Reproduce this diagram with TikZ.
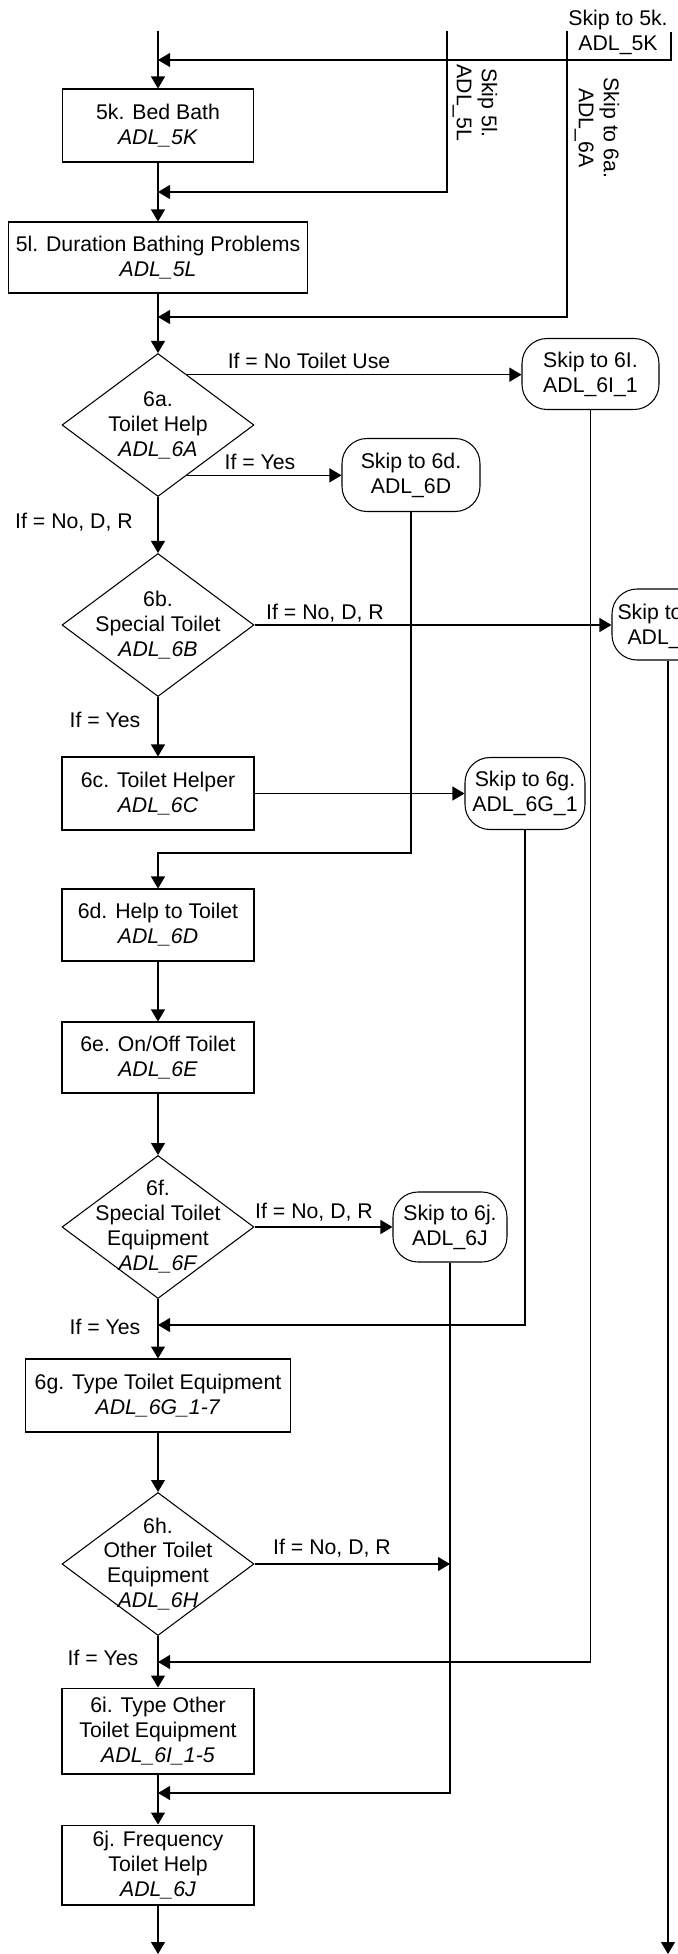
\documentclass[tikz,border=0pt]{standalone}
\usepackage{fontspec}
\setmainfont{Liberation Sans}
\usetikzlibrary{shapes.geometric,arrows.meta}
\newcommand{\chartfont}{\fontsize{12.1}{14.2}\selectfont}
\tikzstyle{question}=[
        draw,
        rectangle,
        align=center,
        inner sep=2pt
]
\tikzstyle{decision}=[
        draw,
        diamond,
        minimum width=3.84cm,
        minimum height=2.86cm,
        inner sep=0pt
]
\tikzstyle{skipto}=[
        draw,
        rectangle,
        rounded corners=0.5cm,
        align=center,
        inner sep=1pt
]
\tikzstyle{lbl}=[
        inner sep=0pt,
        text height=0.72em,
        text depth=0pt
]
\tikzstyle{flow}=[
        -{Triangle[length=0.24cm,width=0.28cm]}
]

\begin{document}
\begin{tikzpicture}[x=0.02cm, y=-0.02cm, line width=0.6pt, every node/.style={font=\chartfont}]
                        \useasboundingbox (0,0) rectangle (678,1954);
                        \clip (0,0) rectangle (678,1954);

                        \coordinate (top5k) at (158,31);
                        \coordinate (top5l) at (447,31);
                        \coordinate (top6a) at (567,31);
                        \coordinate (top5kr) at (671,32);
                        \coordinate (j5k) at (158,60);
                        \coordinate (j5l) at (158,192);
                        \coordinate (j6a) at (158,317);
                        \coordinate (j6d) at (158,853);
                        \coordinate (j6g) at (158,1325);
                        \coordinate (j6i) at (158,1662);
                        \coordinate (j6j) at (158,1793);
                        \coordinate (endL) at (158,1954);
                        \coordinate (endR) at (669,1954);

                        \node (l5k) at (618,32.5) [align=center] {Skip to 5k.\\ADL\_5K};
                        \node (l5l) at (475,103) [rotate=-90, align=center] {Skip 5l.\\ADL\_5L};
                        \node (l6a) at (597,128) [rotate=-90, align=center] {Skip to 6a.\\ADL\_6A};

                        \node[question, minimum width=3.82cm, minimum height=1.46cm] (b5k) at (158,125.5) {5k. Bed Bath\\\textit{ADL\_5K}};
                        \node[question, minimum width=5.98cm, minimum height=1.42cm] (b5l) at (158,257.5) {5l. Duration Bathing Problems\\\textit{ADL\_5L}};

                        \node[decision, label={[align=center]center:6a.\\Toilet Help\\\textit{ADL\_6A}}] (q6a) at (158,425) {};
                        \node[skipto, minimum width=2.74cm, minimum height=1.42cm] (skip6l) at (590.5,374) {Skip to 6I.\\ADL\_6I\_1};
                        \node[skipto, minimum width=2.76cm, minimum height=1.46cm] (skip6d) at (411,475) {Skip to 6d.\\ADL\_6D};

                        \node[decision, label={[align=center]center:6b.\\Special Toilet\\\textit{ADL\_6B}}] (q6b) at (158,625) {};
                        \node[skipto, minimum width=2.24cm, minimum height=1.42cm] (skipR) at (668,624.5) {};
                        \node[lbl, anchor=west] (tR1) at (617,613) {Skip to};
                        \node[lbl, anchor=west] (tR2) at (627,638) {ADL\_};

                        \node[question, minimum width=3.84cm, minimum height=1.46cm] (b6c) at (158,793.5) {6c. Toilet Helper\\\textit{ADL\_6C}};
                        \node[skipto, minimum width=2.4cm, minimum height=1.44cm] (skip6g) at (525,793.5) {Skip to 6g.\\ADL\_6G\_1};

                        \node[question, minimum width=3.84cm, minimum height=1.44cm] (b6d) at (158,925) {6d. Help to Toilet\\\textit{ADL\_6D}};
                        \node[question, minimum width=3.84cm, minimum height=1.42cm] (b6e) at (158,1057.5) {6e. On/Off Toilet\\\textit{ADL\_6E}};

                        \node[decision, label={[align=center]center:6f.\\Special Toilet\\Equipment\\\textit{ADL\_6F}}] (q6f) at (158,1227) {};
                        \node[skipto, minimum width=2.28cm, minimum height=1.4cm] (skip6j) at (450,1227) {Skip to 6j.\\ADL\_6J};

                        \node[question, minimum width=5.3cm, minimum height=1.46cm] (b6g) at (158,1395.5) {6g. Type Toilet Equipment\\\textit{ADL\_6G\_1-7}};
                        \node[decision, label={[align=center]center:6h.\\Other Toilet\\Equipment\\\textit{ADL\_6H}}] (q6h) at (158,1564) {};
                        \node[question, minimum width=3.84cm, minimum height=1.72cm] (b6i) at (158,1731) {6i. Type Other\\Toilet Equipment\\\textit{ADL\_6I\_1-5}};
                        \node[question, minimum width=3.84cm, minimum height=1.6cm] (b6j) at (158,1865) {6j. Frequency\\Toilet Help\\\textit{ADL\_6J}};

                        \node[lbl] (l6aNo) at (309,362) {If = No Toilet Use};
                        \node[lbl] (l6aYes) at (260,463) {If = Yes};
                        \node[lbl] (l6aNDR) at (74,522) {If = No, D, R};
                        \node[lbl] (l6bNDR) at (325,613) {If = No, D, R};
                        \node[lbl] (l6bYes) at (105,721) {If = Yes};
                        \node[lbl] (l6fNDR) at (314,1212) {If = No, D, R};
                        \node[lbl] (l6fYes) at (105,1328) {If = Yes};
                        \node[lbl] (l6hNDR) at (332,1548) {If = No, D, R};
                        \node[lbl] (l6hYes) at (103,1659) {If = Yes};

                        \draw[flow] (top5k) -- (b5k);
                        \draw[flow] (top5kr) |- (j5k);
                        \draw[flow] (top5l) |- (j5l);
                        \draw[flow] (b5k) -- (b5l);
                        \draw[flow] (top6a) |- (j6a);
                        \draw[flow] (b5l) -- (q6a);

                        \draw[flow] (q6a.60) -- (q6a.60 -| skip6l.west);
                        \draw[flow] (q6a.-60) -- (q6a.-60 -| skip6d.west);
                        \draw[flow] (q6a) -- (q6b);
                        \draw[flow] (q6b.east) -- (q6b.east -| skipR.west);
                        \draw[flow] (q6b) -- (b6c);
                        \draw[flow] (b6c.east) -- (skip6g.west);
                        \draw[flow] (skip6d.south) |- (j6d) -- (b6d);
                        \draw[flow] (b6d) -- (b6e);
                        \draw[flow] (b6e) -- (q6f);
                        \draw[flow] (q6f.east) -- (skip6j.west);
                        \draw[flow] (skip6g.south) |- (j6g);
                        \draw[flow] (q6f) -- (b6g);
                        \draw[flow] (b6g) -- (q6h);
                        \draw[flow] (q6h.east) -- (q6h.east -| skip6j.south);
                        \draw[flow] (skip6l.south) |- (j6i);
                        \draw[flow] (q6h) -- (b6i);
                        \draw[flow] (skip6j.south) |- (j6j);
                        \draw[flow] (b6i) -- (b6j);
                        \draw[flow] (b6j) -- (endL);
                        \draw[flow] (skipR.south) -- (skipR.south |- endR);

\end{tikzpicture}
\end{document}
